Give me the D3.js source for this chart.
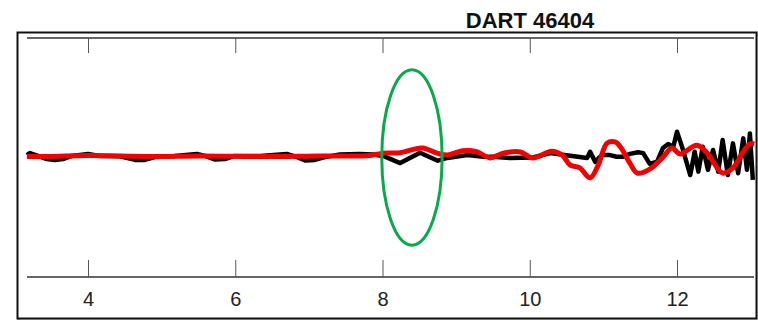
<!DOCTYPE html>
<head>
    <meta charset="utf-8">
    <title>DART 46404</title>
    <style>
        body { margin: 0; background: #fff; }
        svg { display: block; }
    </style>
</head>
<body>

<script src="https://cdn.jsdelivr.net/npm/d3@7"></script>

<script>

    // observed record (black) and model (red), time in hours vs amplitude
    var obsTime = [3.17, 3.21, 3.32, 3.44, 3.55, 3.66, 3.78, 4.00, 4.16, 4.43, 4.64, 4.77, 4.91, 5.18, 5.48, 5.59,
        5.72, 5.86, 5.99, 6.34, 6.70, 6.84, 6.95, 7.08, 7.22, 7.42, 7.69, 7.87, 8.01, 8.24, 8.51, 8.75, 8.88,
        9.15, 9.37, 9.50, 9.73, 10.04, 10.28, 10.55, 10.78, 10.82, 10.89, 10.95, 10.99, 11.09, 11.18, 11.27,
        11.36, 11.47, 11.54, 11.63, 11.73, 11.81, 11.88, 11.95, 12.00, 12.07, 12.12, 12.18, 12.24, 12.29,
        12.35, 12.42, 12.49, 12.56, 12.62, 12.69, 12.76, 12.83, 12.90, 12.95, 12.99, 13.03];
    var obsValue = [0.6, 1.1, 0.4, -0.4, -0.6, -0.4, 0.4, 0.9, 0.4, 0.3, -0.6, -0.6, 0.1, 0.4, 0.9, 0.4,
        -0.5, -0.4, 0.4, 0.4, 0.9, 0.1, -0.75, -0.6, 0.1, 0.75, 0.9, 0.75, 0.4, -1.4, 1.2, -0.8, -0.1,
        0.6, 0.2, 0.2, -0.1, 0, 1.1, 0.45, -0.1, 1.45, -1.1, 0.1, 0.6, 0.6, 0.2, 0.2,
        0.9, 1.3, 1.1, -1.6, -1.05, 2.4, 3.4, 2.7, 6.45, 2.6, -0.6, -4.4, 1.45, -3.55,
        2.7, -3.1, 1.9, -3.55, 4.4, -4.4, 3.55, -3.95, 4.8, -3.1, 6.05, -5.6];

    var modelTime = [3.17, 3.48, 4.00, 4.84, 5.52, 6.34, 7.15, 7.83, 8.01, 8.24, 8.54, 8.74, 8.88, 9.09, 9.28,
        9.46, 9.64, 9.87, 10.04, 10.30, 10.44, 10.55, 10.68, 10.82, 10.93, 11.05, 11.16, 11.23, 11.36, 11.46,
        11.63, 11.81, 11.93, 12.04, 12.27, 12.41, 12.62, 12.76, 12.90, 12.99, 13.05];
    var modelValue = [0.25, 0.25, 0.5, 0.25, 0.4, 0.25, 0.4, 0.5, 1.1, 1.2, 2.4, 1.1, 0.6, 1.7, 1.45,
        -0.1, 1.1, 1.4, -0.1, 1.6, 0.6, -1.9, -2.6, -5.1, -1.9, 3.6, 3.9, 2.7, -1.4, -3.9,
        -2.9, 0.1, 2.4, 0.9, 3.1, 1.1, -3.9, -2.6, 1.45, 3.4, 3.4];

    var tickValues = [4, 6, 8, 10, 12];
    var title = "DART 46404";

    // green ellipse marking the first arrival
    var markTime = 8.4, markHalfWidth = 0.41, markHalfHeight = 22;

    var width = 758, height = 320;
    var plot = {left: 27, right: 754, top: 38, bottom: 277};

    var x = d3.scaleLinear()
        .domain([4, 12])
        .range([88, 677]);

    var y = d3.scaleLinear()
        .domain([-30, 30])
        .range([plot.bottom, plot.top]);

    var svg = d3.select('body').append('svg')
        .attr('width', width)
        .attr('height', height);

    // outer frame with a faint shadow
    svg.append('rect')
        .attr('x', 19).attr('y', 34)
        .attr('width', 740).attr('height', 287)
        .attr('fill', 'none')
        .attr('stroke', '#bbb')
        .attr('stroke-width', 3);

    svg.append('rect')
        .attr('x', 17.5).attr('y', 32.5)
        .attr('width', 739).attr('height', 286)
        .attr('fill', '#fff')
        .attr('stroke', '#111')
        .attr('stroke-width', 2);

    var xAxis = d3.axisBottom(x)
        .tickValues(tickValues)
        .tickSize(-17)
        .tickSizeOuter(0)
        .tickPadding(15);

    var xTop = d3.axisTop(x)
        .tickValues(tickValues)
        .tickSize(-15)
        .tickSizeOuter(0)
        .tickFormat('');

    var gBottom = svg.append('g')
        .attr('transform', 'translate(0,' + plot.bottom + ')')
        .call(xAxis);

    var gTop = svg.append('g')
        .attr('transform', 'translate(0,' + plot.top + ')')
        .call(xTop);

    [gBottom, gTop].forEach(function(g) {
        g.select('.domain')
            .attr('d', 'M' + plot.left + ',0H' + plot.right)
            .attr('stroke', '#666')
            .attr('stroke-width', 2);
        g.selectAll('.tick line')
            .attr('stroke', '#555')
            .attr('stroke-width', 1);
    });

    gBottom.selectAll('.tick text')
        .attr('fill', '#222')
        .style('font-family', '"Liberation Sans", Arial, sans-serif')
        .style('font-size', '20px');

    var line = d3.line()
        .x(function(d) { return x(d[0]); })
        .y(function(d) { return y(d[1]); });

    var obs = obsTime.map(function(t, i) { return [t, obsValue[i]]; });
    var model = modelTime.map(function(t, i) { return [t, modelValue[i]]; });

    svg.append('path')
        .datum(obs)
        .attr('d', line.curve(d3.curveLinear))
        .attr('fill', 'none')
        .attr('stroke', '#000')
        .attr('stroke-width', 4.5)
        .attr('stroke-linejoin', 'round');

    svg.append('path')
        .datum(model)
        .attr('d', line.curve(d3.curveCatmullRom.alpha(0.5)))
        .attr('fill', 'none')
        .attr('stroke', '#f00000')
        .attr('stroke-width', 5)
        .attr('stroke-linejoin', 'round');

    svg.append('ellipse')
        .attr('cx', x(markTime))
        .attr('cy', y(0))
        .attr('rx', x(markTime + markHalfWidth) - x(markTime))
        .attr('ry', y(0) - y(markHalfHeight))
        .attr('fill', 'none')
        .attr('stroke', '#0aa84c')
        .attr('stroke-width', 3);

    svg.append('text')
        .attr('x', 530)
        .attr('y', 28)
        .attr('text-anchor', 'middle')
        .style('font-family', '"Liberation Sans", Arial, sans-serif')
        .style('font-weight', 'bold')
        .style('font-size', '22px')
        .attr('fill', '#111')
        .text(title);

</script>

</body>
